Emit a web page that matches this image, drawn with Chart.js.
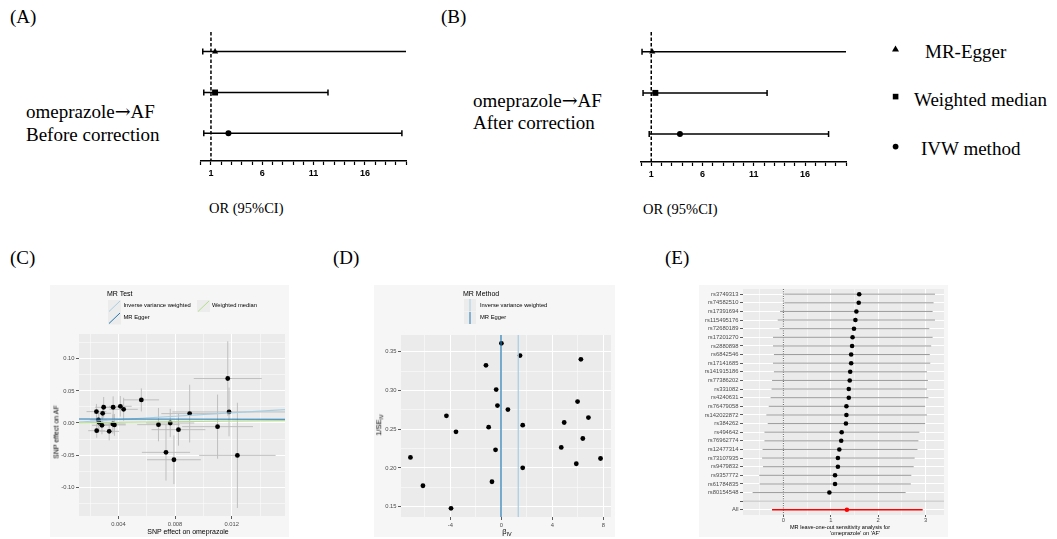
<!DOCTYPE html>
<html>
<head>
<meta charset="utf-8">
<title>MR figure</title>
<script src="https://cdn.jsdelivr.net/npm/chart.js@4.4.1/dist/chart.umd.min.js"></script>
<style>
html,body{margin:0;padding:0;background:#fff;}
body{position:relative;width:1057px;height:539px;overflow:hidden;}
.t{position:absolute;white-space:nowrap;line-height:1;}
.serif{font-family:"Liberation Serif","Times New Roman",serif;color:#000;}
.sans{font-family:"Liberation Sans",Arial,sans-serif;color:#000;}
.arr{font-family:"DejaVu Serif","DejaVu Sans",serif;}
canvas{position:absolute;display:block;}
sub{font-size:72%;vertical-align:-0.3em;line-height:0;}
</style>
</head>
<body>
<script>
// ---------------- DATA ----------------
// Panels A/B: forest plots
const forestMethods = ['MR-Egger', 'Weighted median', 'IVW method'];
const forestRows = [1, 2, 3];
const orBefore = [1.4, 1.4, 2.7];
const ciLowBefore = [0.2, 0.3, 0.3];
const ciHighBefore = [21.5, 12.4, 19.6];
const orAfter = [1.1, 1.4, 3.8];
const ciLowAfter = [0.1, 0.2, 0.8];
const ciHighAfter = [21.5, 12.3, 18.3];
const forestTicks = [0,1,2,3,4,5,6,7,8,9,10,11,12,13,14,15,16,17,18,19,20];
const forestLabelledTicks = [1, 6, 11, 16];
const forestTickLabels = ['1', '6', '11', '16'];

// Panel C: scatter plot (SNP effects)
const snpExp = [0.00245,0.00296,0.00363,0.00414,0.00437,0.00289,0.00562,0.00259,0.00263,0.00284,0.00247,0.00335,
                0.00361,0.00372,0.00683,0.00766,0.00824,0.00736,0.00792,0.00903,0.01100,0.01172,0.01181,0.01240];
const snpOut = [0.0177,0.0245,0.0245,0.0260,0.0213,0.0151,0.0360,0.0047,0.0010,-0.0036,-0.0120,-0.0130,
                -0.0016,-0.0030,-0.0026,0.0000,-0.0104,-0.0458,-0.0573,0.0146,-0.0057,0.0693,0.0172,-0.0505];
const snpExpErr = [0.0007,0.0006,0.0008,0.0008,0.0010,0.0006,0.00125,0.0006,0.0006,0.0007,0.0006,0.0007,
                   0.0009,0.0008,0.0015,0.0017,0.0019,0.0017,0.0019,0.0020,0.0025,0.0024,0.0040,0.0027];
const snpOutErr = [0.012,0.016,0.017,0.016,0.018,0.014,0.018,0.012,0.013,0.014,0.011,0.014,
                   0.015,0.017,0.026,0.022,0.025,0.044,0.038,0.045,0.050,0.058,0.038,0.082];
const mrMethods = ['Inverse variance weighted', 'MR Egger', 'Weighted median'];
const mrSlopes = [1.32, -0.03, 0.25];
const mrIntercepts = [0, 0.0062, 0];
const scatterXMajor = [0.004, 0.008, 0.012];
const scatterXLabels = ['0.004', '0.008', '0.012'];
const scatterXMinor = [0.002, 0.006, 0.010, 0.014];
const scatterYMajor = [-0.10, -0.05, 0, 0.05, 0.10];
const scatterYLabels = ['-0.10', '-0.05', '0.00', '0.05', '0.10'];
const scatterYMinor = [-0.125, -0.075, -0.025, 0.025, 0.075, 0.125];

// Panel D: funnel plot
const funnelBeta = [0, 1.46, 6.23, -1.21, -0.41, 5.97, -0.31, 0.51, -4.31, 6.82, -3.56, -1.00,
                    4.92, 1.67, 6.38, -0.46, 4.69, -7.13, 7.77, 5.87, 1.67, -0.74, -6.15, -3.95];
const funnelInvSE = [0.3607, 0.3449, 0.3401, 0.3324, 0.3011, 0.2856, 0.2805, 0.2753, 0.2672, 0.2650, 0.2466, 0.2526,
                     0.2586, 0.2552, 0.2380, 0.2234, 0.2264, 0.2135, 0.2122, 0.2054, 0.2002, 0.1822, 0.1770, 0.1479];
const funnelMethods = ['Inverse variance weighted', 'MR Egger'];
const funnelXMajor = [-4, 0, 4, 8];
const funnelXLabels = ['-4', '0', '4', '8'];
const funnelXMinor = [-6, -2, 2, 6];
const funnelYMajor = [0.15, 0.20, 0.25, 0.30, 0.35];
const funnelYLabels = ['0.15', '0.20', '0.25', '0.30', '0.35'];
const funnelYMinor = [0.175, 0.225, 0.275, 0.325];

// Panel E: leave-one-out
const looSnps = ['rs3749313','rs74582510','rs17391694','rs115495176','rs72680189','rs17201270','rs2880898','rs6842546',
                 'rs17141685','rs141915186','rs77386202','rs331082','rs4240631','rs76479058','rs142022872','rs384262',
                 'rs494642','rs76962774','rs12477314','rs73107935','rs9479832','rs9357772','rs61784835','rs80154548'];
const looEst = [1.60,1.59,1.54,1.52,1.49,1.46,1.45,1.43,1.43,1.41,1.40,1.38,1.38,1.33,1.33,1.32,1.23,1.22,1.18,1.15,1.15,1.09,1.09,0.97];
const looLow = [0.02,0.02,-0.07,-0.12,-0.08,-0.22,-0.22,-0.20,-0.22,-0.20,-0.24,-0.25,-0.27,-0.31,-0.36,-0.33,-0.40,-0.40,-0.44,-0.45,-0.43,-0.51,-0.50,-0.65];
const looHigh = [3.20,3.17,3.15,3.20,3.08,3.15,3.12,3.09,3.10,3.03,3.05,3.03,3.06,2.99,3.03,2.99,2.87,2.85,2.83,2.77,2.75,2.70,2.69,2.58];
const allLabel = 'All';
const allEst = [1.34];
const allLow = [-0.24];
const allHigh = [2.94];
const looXMajor = [0, 1, 2, 3];
const looXLabels = ['0', '1', '2', '3'];
const looXMinor = [-0.5, 0.5, 1.5, 2.5];

// ---------------- HELPERS ----------------
const SANS = '"Liberation Sans", Arial, sans-serif';
Chart.defaults.font.family = SANS;

function txt(text, x, yc, size, cls, opts) {
  opts = opts || {};
  const d = document.createElement('div');
  d.className = 't ' + cls;
  if (opts.html) d.innerHTML = text; else d.textContent = text;
  d.style.fontSize = size + 'px';
  if (opts.rotate) {
    d.style.left = x + 'px'; d.style.top = yc + 'px';
    d.style.transform = 'translate(-50%,-50%) rotate(-90deg)';
  } else {
    d.style.left = x + 'px'; d.style.top = (yc - size / 2) + 'px';
    if (opts.center) d.style.transform = 'translateX(-50%)';
  }
  if (opts.color) d.style.color = opts.color;
  document.body.appendChild(d);
  return d;
}
function svgAt(x, y, w, h, inner) {
  const s = document.createElementNS('http://www.w3.org/2000/svg', 'svg');
  s.setAttribute('width', w); s.setAttribute('height', h);
  s.style.position = 'absolute'; s.style.left = x + 'px'; s.style.top = y + 'px';
  s.innerHTML = inner;
  document.body.appendChild(s);
}
function makeChart(left, top, w, h, config) {
  const c = document.createElement('canvas');
  c.width = w; c.height = h;
  c.style.left = left + 'px'; c.style.top = top + 'px';
  c.style.width = w + 'px'; c.style.height = h + 'px';
  document.body.appendChild(c);
  return new Chart(c.getContext('2d'), config);
}
function makeBg(outer, panel) {
  return { id: 'bg', beforeDraw(chart) {
    const { ctx, chartArea: a, width, height } = chart;
    ctx.save();
    ctx.fillStyle = outer; ctx.fillRect(0, 0, width, height);
    ctx.fillStyle = panel; ctx.fillRect(a.left, a.top, a.right - a.left, a.bottom - a.top);
    ctx.restore();
  }};
}
function drawRefs(chart, lines) {
  const { ctx, chartArea: a, scales } = chart;
  const x = scales.x, y = scales.y;
  ctx.save();
  ctx.beginPath(); ctx.rect(a.left, a.top, a.right - a.left, a.bottom - a.top); ctx.clip();
  lines.forEach(l => {
    ctx.strokeStyle = l.color; ctx.lineWidth = l.width; ctx.setLineDash(l.dash || []);
    ctx.beginPath();
    if (l.type === 'v') {
      const px = x.getPixelForValue(l.value); ctx.moveTo(px, a.top); ctx.lineTo(px, a.bottom);
    } else if (l.type === 'h') {
      const py = y.getPixelForValue(l.value); ctx.moveTo(a.left, py); ctx.lineTo(a.right, py);
    } else {
      const x0 = x.min, x1 = x.max;
      ctx.moveTo(x.getPixelForValue(x0), y.getPixelForValue(l.intercept + l.slope * x0));
      ctx.lineTo(x.getPixelForValue(x1), y.getPixelForValue(l.intercept + l.slope * x1));
    }
    ctx.stroke();
  });
  ctx.restore();
}
function makeRef(lines) {
  return { id: 'ref',
    beforeDatasetsDraw(chart) { drawRefs(chart, lines.filter(l => l.under)); },
    afterDatasetsDraw(chart) { drawRefs(chart, lines.filter(l => !l.under)); } };
}
function makeErr(specs) {
  return { id: 'err', beforeDatasetsDraw(chart) {
    const { ctx, chartArea: a, scales } = chart;
    const x = scales.x, y = scales.y;
    ctx.save();
    ctx.beginPath(); ctx.rect(a.left, a.top, a.right - a.left, a.bottom - a.top); ctx.clip();
    specs.forEach(sp => {
      const ds = chart.data.datasets[sp.ds];
      ctx.strokeStyle = sp.color; ctx.lineWidth = sp.width; ctx.setLineDash([]);
      ds.data.forEach((p, i) => {
        const px = x.getPixelForValue(p.x), py = y.getPixelForValue(p.y);
        if (sp.xLo) {
          const x1 = x.getPixelForValue(sp.xLo[i]), x2 = x.getPixelForValue(sp.xHi[i]);
          ctx.beginPath(); ctx.moveTo(x1, py); ctx.lineTo(x2, py); ctx.stroke();
          if (sp.cap) [x1, x2].forEach(xx => {
            if (xx >= a.left - 0.5 && xx <= a.right + 0.5) {
              ctx.beginPath(); ctx.moveTo(xx, py - sp.cap); ctx.lineTo(xx, py + sp.cap); ctx.stroke();
            }
          });
        }
        if (sp.yLo) {
          const y1 = y.getPixelForValue(sp.yLo[i]), y2 = y.getPixelForValue(sp.yHi[i]);
          ctx.beginPath(); ctx.moveTo(px, y1); ctx.lineTo(px, y2); ctx.stroke();
        }
      });
    });
    ctx.restore();
  }};
}
function ggScale(pos, min, max, majors, labels, minors, size, extra, tickPad, tickLen) {
  const all = majors.concat(minors).sort((a, b) => a - b);
  const isMaj = v => majors.some(m => Math.abs(m - v) < 1e-9);
  return Object.assign({
    type: 'linear', position: pos, min: min, max: max,
    afterBuildTicks: s => { s.ticks = all.map(v => ({ value: v })); },
    afterFit: s => {
      if (pos === 'left') s.width = size; else s.height = size;
      s.paddingTop = 0; s.paddingBottom = 0; s.paddingLeft = 0; s.paddingRight = 0;
    },
    border: { display: false },
    grid: {
      color: '#ffffff',
      lineWidth: c => (c.tick && isMaj(c.tick.value)) ? 1 : 0.5,
      tickColor: c => (c.tick && isMaj(c.tick.value)) ? '#333333' : 'rgba(0,0,0,0)',
      tickLength: (tickLen === undefined ? 3 : tickLen), tickWidth: 0.8
    },
    ticks: {
      autoSkip: false, maxRotation: 0, minRotation: 0, padding: (tickPad === undefined ? 1.5 : tickPad), color: '#4d4d4d',
      font: { family: SANS, size: 5.8 },
      callback: v => { const i = majors.findIndex(m => Math.abs(m - v) < 1e-9); return i >= 0 ? labels[i] : ''; }
    }
  }, extra || {});
}
const baseOpts = { responsive: false, animation: false, events: [], devicePixelRatio: 1 };
const noPlug = { legend: { display: false }, tooltip: { enabled: false } };

// ---------------- PANELS A & B ----------------
function forestChart(left, est, lo, hi, padLeft, axisH) {
  return makeChart(left, 22, 226, 170, {
    type: 'scatter',
    data: { datasets: [{
      label: 'OR',
      data: est.map((v, i) => ({ x: v, y: forestRows[i] })),
      pointStyle: ['triangle', 'rect', 'circle'], pointRadius: [3.6, 4.2, 3],
      backgroundColor: '#000', borderColor: '#000', borderWidth: 0
    }]},
    options: Object.assign({}, baseOpts, {
      layout: { padding: { left: padLeft, right: 10, top: 10, bottom: 0 } },
      plugins: noPlug,
      scales: {
        x: {
          type: 'linear', position: 'bottom', min: 0, max: 20,
          afterBuildTicks: s => { s.ticks = forestTicks.map(v => ({ value: v })); },
          afterFit: s => { s.height = axisH; s.paddingLeft = 0; s.paddingRight = 0; },
          border: { display: true, color: '#000', width: 1.6 },
          grid: { drawOnChartArea: false, drawTicks: true, tickLength: 4, tickColor: '#000', tickWidth: 1.2 },
          ticks: { autoSkip: false, maxRotation: 0, padding: 3, color: '#000',
            font: { family: SANS, size: 9, weight: 'bold' },
            callback: v => { const i = forestLabelledTicks.indexOf(v); return i >= 0 ? forestTickLabels[i] : ''; } }
        },
        y: { type: 'linear', display: false, min: 0.52, max: 3.68, reverse: true }
      }
    }),
    plugins: [
      makeRef([{ type: 'v', value: 1, color: '#000', width: 1.5, dash: [3.5, 2] }]),
      makeErr([{ ds: 0, xLo: lo, xHi: hi, color: '#000', width: 1.5, cap: 3 }])
    ]
  });
}
forestChart(190, orBefore, ciLowBefore, ciHighBefore, 10.7, 31);
forestChart(630, orAfter, ciLowAfter, ciHighAfter, 11, 30);

txt('(A)', 10, 16.5, 19, 'serif');
txt('(B)', 441, 16.5, 19, 'serif');
txt('omeprazole<span class="arr">\u2192</span>AF', 26, 111, 19, 'serif', { html: true });
txt('Before correction', 26, 134, 19, 'serif');
txt('omeprazole<span class="arr">\u2192</span>AF', 473, 100, 19, 'serif', { html: true });
txt('After correction', 473, 122, 19, 'serif');
txt('OR (95%CI)', 209, 208, 14.5, 'serif');
txt('OR (95%CI)', 643, 209, 14.5, 'serif');

// legend for forest plots
svgAt(891, 45, 9, 8, '<polygon points="4.5,0.5 8,6.5 1,6.5" fill="#000"/>');
svgAt(892, 93, 8, 8, '<rect x="0.8" y="0.8" width="5.6" height="5.6" fill="#000"/>');
svgAt(892, 142.5, 8, 8, '<circle cx="3.6" cy="3.6" r="2.9" fill="#000"/>');
txt(forestMethods[0], 925, 51.5, 19, 'serif');
txt(forestMethods[1], 914, 99.5, 19, 'serif');
txt(forestMethods[2], 921, 148, 19, 'serif');

// ---------------- PANEL C ----------------
const mrColors = ['#a6cee3', '#1f78b4', '#b2df8a'];
makeChart(50, 285, 239, 252, {
  type: 'scatter',
  data: { datasets: [{ label: 'SNP', data: snpExp.map((v, i) => ({ x: v, y: snpOut[i] })),
    pointRadius: 2.4, backgroundColor: '#000', borderWidth: 0 }] },
  options: Object.assign({}, baseOpts, {
    layout: { padding: { left: 0, right: 1, top: 49, bottom: 0 } },
    plugins: noPlug,
    scales: {
      x: ggScale('bottom', 0.00122, 0.01576, scatterXMajor, scatterXLabels, scatterXMinor, 21),
      y: ggScale('left', -0.145, 0.1387, scatterYMajor, scatterYLabels, scatterYMinor, 29)
    }
  }),
  plugins: [
    makeBg('#f6f6f6', '#ebebeb'),
    makeRef(mrMethods.map((m, i) => ({ type: 'ab', slope: mrSlopes[i], intercept: mrIntercepts[i], color: mrColors[i], width: 1.1 }))),
    makeErr([{ ds: 0,
      xLo: snpExp.map((v, i) => v - snpExpErr[i]), xHi: snpExp.map((v, i) => v + snpExpErr[i]),
      yLo: snpOut.map((v, i) => v - snpOutErr[i]), yHi: snpOut.map((v, i) => v + snpOutErr[i]),
      color: '#bababa', width: 0.9 }])
  ]
});
txt('(C)', 10, 257.7, 19, 'serif');
txt('MR Test', 107, 293, 7, 'sans');
svgAt(108, 299.5, 13, 12.5, '<rect width="13" height="12.5" fill="#ececec"/><line x1="1" y1="11.5" x2="12" y2="1" stroke="' + mrColors[0] + '" stroke-width="1"/>');
svgAt(108, 312, 13, 12.5, '<rect width="13" height="12.5" fill="#ececec"/><line x1="1" y1="11.5" x2="12" y2="1" stroke="' + mrColors[1] + '" stroke-width="1"/>');
svgAt(197, 299.5, 13, 12.5, '<rect width="13" height="12.5" fill="#ececec"/><line x1="1" y1="11.5" x2="12" y2="1" stroke="' + mrColors[2] + '" stroke-width="1"/>');
txt(mrMethods[0], 123.5, 306, 5.8, 'sans');
txt(mrMethods[1], 123.5, 318, 5.8, 'sans');
txt(mrMethods[2], 212, 306, 5.8, 'sans');
txt('SNP effect on AF', 55.5, 432, 7, 'sans', { rotate: true });
txt('SNP effect on omeprazole', 188, 531.5, 7, 'sans', { center: true });

// ---------------- PANEL D ----------------
makeChart(374, 285, 241, 252, {
  type: 'scatter',
  data: { datasets: [{ label: 'SNP', data: funnelBeta.map((v, i) => ({ x: v, y: funnelInvSE[i] })),
    pointRadius: 2.4, backgroundColor: '#000', borderWidth: 0 }] },
  options: Object.assign({}, baseOpts, {
    layout: { padding: { left: 0, right: 1, top: 50, bottom: 0 } },
    plugins: noPlug,
    scales: {
      x: ggScale('bottom', -7.87, 8.59, funnelXMajor, funnelXLabels, funnelXMinor, 20),
      y: ggScale('left', 0.1367, 0.3715, funnelYMajor, funnelYLabels, funnelYMinor, 27)
    }
  }),
  plugins: [
    makeBg('#f6f6f6', '#ebebeb'),
    makeRef([
      { type: 'v', value: mrSlopes[0], color: mrColors[0], width: 1.2 },
      { type: 'v', value: mrSlopes[1], color: mrColors[1], width: 1.2 }
    ])
  ]
});
txt('(D)', 333, 257.7, 19, 'serif');
txt('MR Method', 463, 293, 7, 'sans');
svgAt(464, 299, 12, 12.5, '<rect width="12" height="12.5" fill="#ececec"/><line x1="6" y1="0" x2="6" y2="12.5" stroke="' + mrColors[0] + '" stroke-width="1"/>');
svgAt(464, 311.5, 12, 12.5, '<rect width="12" height="12.5" fill="#ececec"/><line x1="6" y1="0" x2="6" y2="12.5" stroke="' + mrColors[1] + '" stroke-width="1"/>');
txt(funnelMethods[0], 480, 306, 5.8, 'sans');
txt(funnelMethods[1], 480, 318, 5.8, 'sans');
txt('1/SE<sub>IV</sub>', 378.5, 425, 7.5, 'sans', { rotate: true, html: true });
txt('\u03B2<sub>IV</sub>', 507, 532, 7.5, 'sans', { center: true, html: true });

// ---------------- PANEL E ----------------
const looRowLabels = looSnps.concat(['', allLabel]);
const looRows = looRowLabels.map((s, i) => i);
const blankRow = looSnps.length;
const allRow = looSnps.length + 1;
makeChart(699, 285, 249, 252, {
  type: 'scatter',
  data: { datasets: [
    { label: 'SNP', data: looEst.map((v, i) => ({ x: v, y: i })), pointRadius: 2.3, backgroundColor: '#000', borderWidth: 0 },
    { label: 'All', data: allEst.map(v => ({ x: v, y: allRow })), pointRadius: 2.3, backgroundColor: '#ff0000', borderWidth: 0 }
  ]},
  options: Object.assign({}, baseOpts, {
    layout: { padding: { left: 0, right: 2, top: 3, bottom: 0 } },
    plugins: noPlug,
    scales: {
      x: ggScale('bottom', -0.853, 3.39, looXMajor, looXLabels, looXMinor, 22, null, -0.5, 2),
      y: ggScale('left', -0.6, 25.6, looRows, looRowLabels, [], 44, { reverse: true })
    }
  }),
  plugins: [
    makeBg('#f6f6f6', '#ebebeb'),
    makeRef([
      { type: 'v', value: 0, color: '#333', width: 0.8, dash: [1, 1.3], under: true },
      { type: 'h', value: blankRow, color: '#bebebe', width: 1 }
    ]),
    makeErr([
      { ds: 0, xLo: looLow, xHi: looHigh, color: '#9a9a9a', width: 1 },
      { ds: 1, xLo: allLow, xHi: allHigh, color: '#ff0000', width: 1.6 }
    ])
  ]
});
txt('(E)', 665, 257.7, 19, 'serif');
txt('MR leave-one-out sensitivity analysis for', 840, 527.5, 5.6, 'sans', { center: true });
txt("'omeprazole' on 'AF'", 855, 533.3, 5.6, 'sans', { center: true });
</script>
</body>
</html>
